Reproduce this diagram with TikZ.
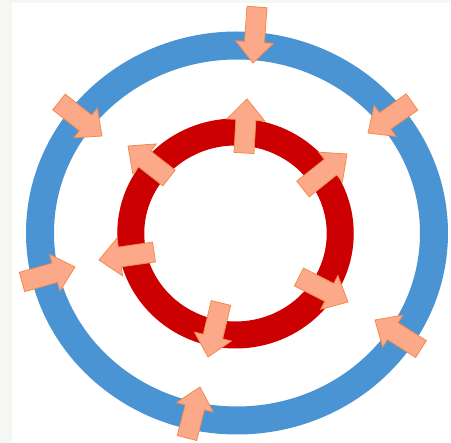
\documentclass[tikz,border=0pt]{standalone}
\usepackage{tikz}
\usetikzlibrary{calc}
\definecolor{ringBlue}{HTML}{4A94D4}
\definecolor{ringRed}{HTML}{CC0000}
\definecolor{arrowFill}{HTML}{FCA98A}
\definecolor{arrowLine}{HTML}{F38A4C}
\definecolor{edgeGrey}{HTML}{F5F7F2}
\tikzset{
  outerring/.style={draw=ringBlue, line width=28pt},
  innerring/.style={draw=ringRed, line width=27pt},
  blockarrow/.style={fill=arrowFill, draw=arrowLine, line width=0.8pt, line join=miter},
}
% block arrow from tail #1 to tip #2
\newcommand{\blockarr}[2]{%
  \path ($(#2)!21pt!(#1)$) coordinate (hb);
  \draw[blockarrow] ($(#1)!10pt!90:(#2)$) -- ($(hb)!10pt!90:(#2)$) -- ($(hb)!19pt!90:(#2)$)
    -- (#2) -- ($(hb)!19pt!-90:(#2)$) -- ($(hb)!10pt!-90:(#2)$) -- ($(#1)!10pt!-90:(#2)$) -- cycle;
}

\begin{document}
\begin{tikzpicture}[x=1pt,y=-1pt]
  \useasboundingbox (0,0) rectangle (451,443);
  \fill[white] (0,0) rectangle (451,443);
  \fill[edgeGrey] (0,0) rectangle (12,443);
  \fill[edgeGrey] (0,0) rectangle (451,3);

  % rings
  \coordinate (ctr) at (237,233);
  \draw[outerring] (ctr) ellipse [x radius=197, y radius=187.5];
  \draw[innerring] (235.5,233.5) ellipse [x radius=104.75, y radius=101.5];

  % arrows into the outer ring
  \coordinate (o1t) at (257,7);   \coordinate (o1h) at (253,63);
  \coordinate (o2t) at (59,102);  \coordinate (o2h) at (102,136);
  \coordinate (o3t) at (412,102); \coordinate (o3h) at (368,133);
  \coordinate (o4t) at (22,282);  \coordinate (o4h) at (75,267);
  \coordinate (o5t) at (421,349); \coordinate (o5h) at (375,320);
  \coordinate (o6t) at (187,438); \coordinate (o6h) at (200,387);

  % arrows out of the inner ring
  \coordinate (i1t) at (244,153); \coordinate (i1h) at (247,99);
  \coordinate (i2t) at (169,178); \coordinate (i2h) at (128,146);
  \coordinate (i3t) at (303,189); \coordinate (i3h) at (347,154);
  \coordinate (i4t) at (154,252); \coordinate (i4h) at (99,260);
  \coordinate (i5t) at (299,277); \coordinate (i5h) at (348,302);
  \coordinate (i6t) at (221,303); \coordinate (i6h) at (208,357);

  \foreach \a in {o1,o2,o3,o4,o5,o6,i1,i2,i3,i4,i5,i6}
    {\blockarr{\a t}{\a h}}
\end{tikzpicture}
\end{document}
